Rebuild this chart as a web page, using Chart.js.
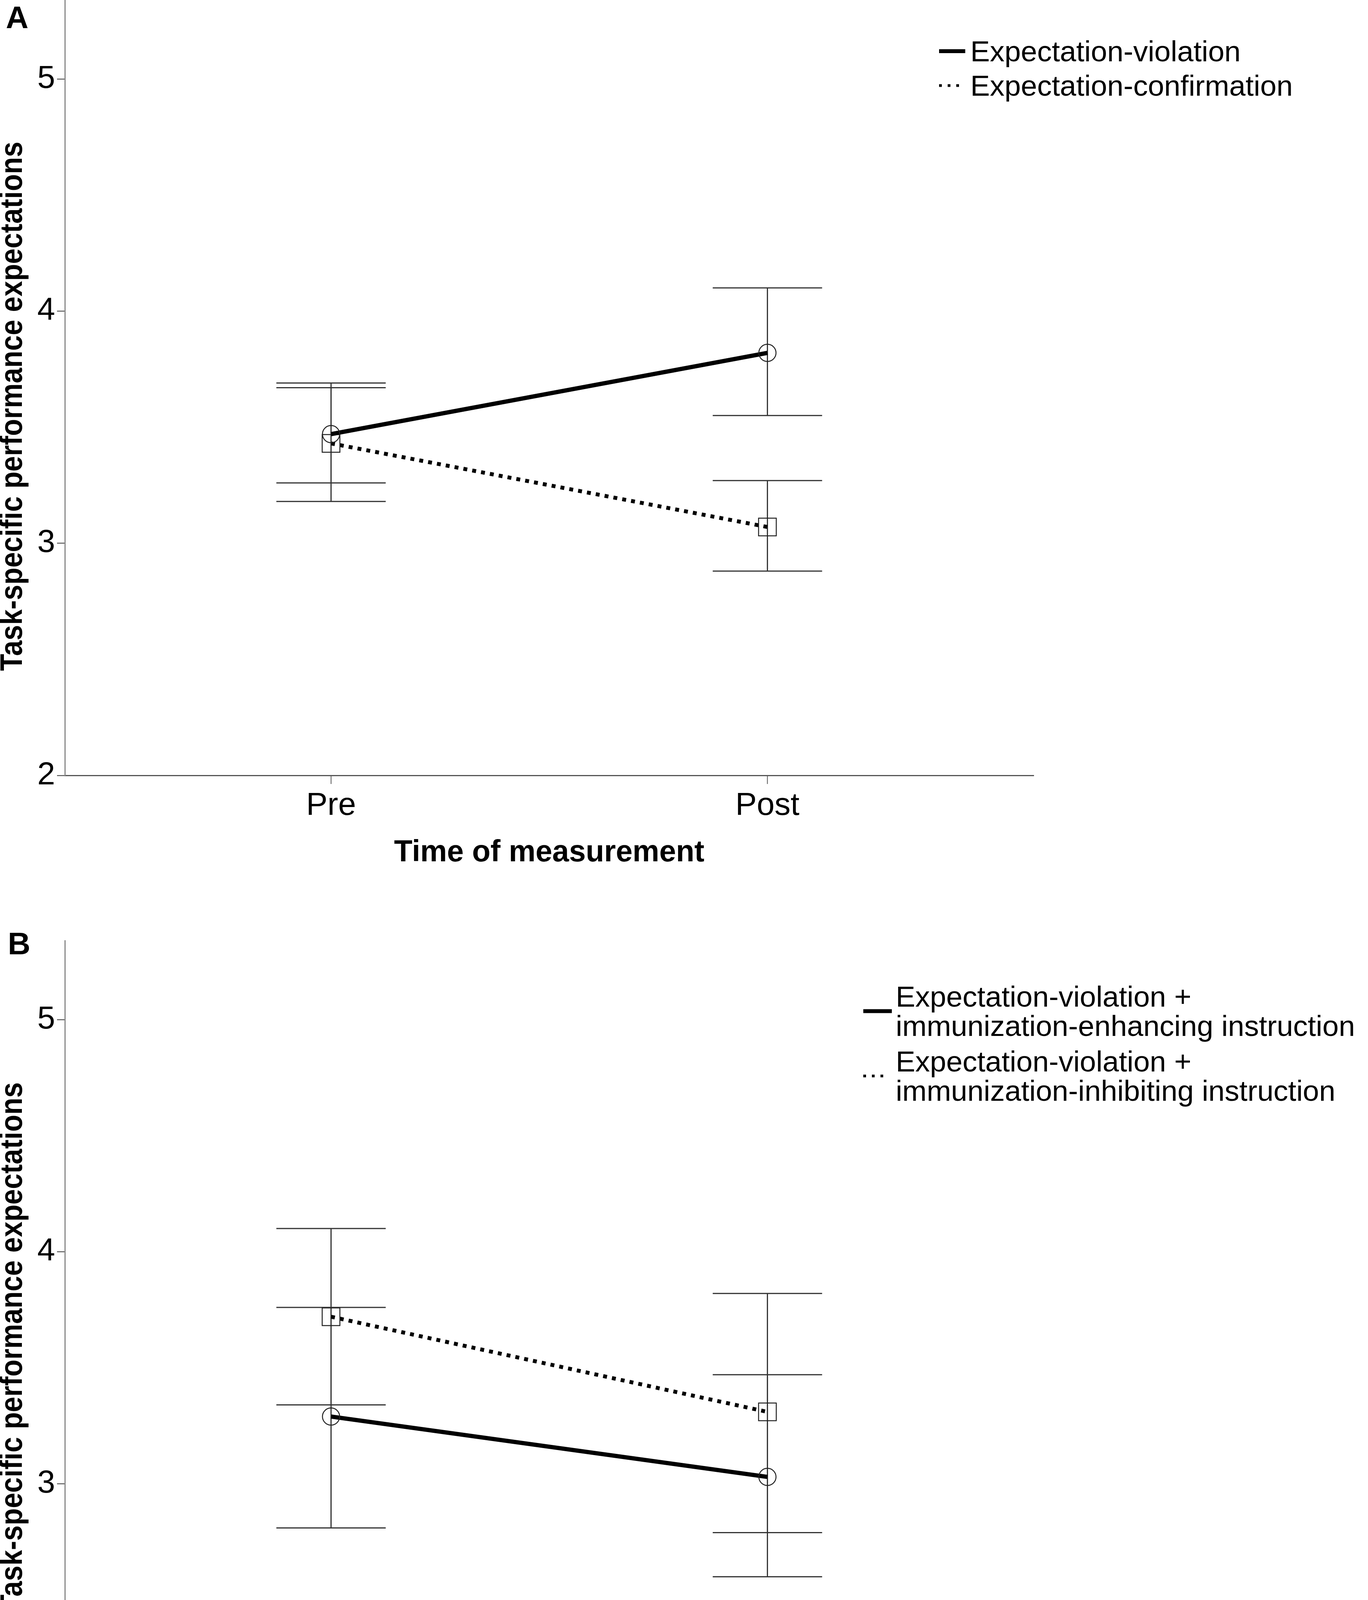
<!DOCTYPE html>
<html>
<head>
<meta charset="utf-8">
<title>Task-specific performance expectations</title>
<script src="https://cdn.jsdelivr.net/npm/chart.js@4.4.1/dist/chart.umd.min.js"></script>
<style>
  html, body { margin: 0; padding: 0; background: #fff; }
  body { width: 3502px; height: 4611px; overflow: hidden; position: relative; }
  canvas { position: absolute; left: 0; }
  #panelA { top: -120px; }
  #panelB { top: 2288px; }
</style>
</head>
<body>
<canvas id="panelA" width="3502" height="2420"></canvas>
<canvas id="panelB" width="3502" height="2420"></canvas>
<script>
// values: group means and error-bar ends
const timeLabels = ['Pre', 'Post'];
const yTicks = [2, 3, 4, 5];
const yTitle = 'Task-specific performance expectations';
const xTitle = 'Time of measurement';

const aLegend = [['Expectation-violation'], ['Expectation-confirmation']];
const aViolMean = [3.47, 3.82];
const aViolLow = [3.26, 3.55];
const aViolHigh = [3.69, 4.10];
const aConfMean = [3.43, 3.07];
const aConfLow = [3.18, 2.88];
const aConfHigh = [3.67, 3.27];

const bLegend = [
    ['Expectation-violation +', 'immunization-enhancing instruction'],
    ['Expectation-violation +', 'immunization-inhibiting instruction'],
];
const bEnhMean = [3.29, 3.03];
const bEnhLow = [2.81, 2.60];
const bEnhHigh = [3.76, 3.47];
const bInhMean = [3.72, 3.31];
const bInhLow = [3.34, 2.79];
const bInhHigh = [4.10, 3.82];

const FONT = '"Liberation Sans", Arial, sans-serif';
const CAP_HALF = 140;      // px
const Y_TITLE_LEN = 1355;  // px, the rotated title is set condensed
Chart.defaults.font.family = FONT;

function series(lines, mean, low, high, dotted) {
    return {
        label: lines.join(' '),
        data: mean.map((y, i) => ({ x: i, y })),
        errLow: low,
        errHigh: high,
        borderColor: '#000',
        borderWidth: dotted ? 10 : 11,
        borderDash: dotted ? [10, 13] : [],
        borderCapStyle: 'butt',
        pointStyle: dotted ? 'rect' : 'circle',
        pointRadius: dotted ? 32 : 22,
        pointBorderWidth: 2.5,
        pointBorderColor: '#222',
        pointBackgroundColor: 'rgba(0,0,0,0)',
        tension: 0,
    };
}

const errorBars = {
    id: 'errorBars',
    beforeDatasetsDraw(chart) {
        const { ctx, scales: { x, y } } = chart;
        ctx.save();
        ctx.strokeStyle = '#333';
        ctx.lineWidth = 3;
        chart.data.datasets.forEach((ds) => {
            ds.data.forEach((p, i) => {
                const px = x.getPixelForValue(p.x);
                const top = y.getPixelForValue(ds.errHigh[i]);
                const bot = y.getPixelForValue(ds.errLow[i]);
                ctx.beginPath();
                ctx.moveTo(px, top); ctx.lineTo(px, bot);
                ctx.moveTo(px - CAP_HALF, top); ctx.lineTo(px + CAP_HALF, top);
                ctx.moveTo(px - CAP_HALF, bot); ctx.lineTo(px + CAP_HALF, bot);
                ctx.stroke();
            });
        });
        ctx.restore();
    },
};

// panel letter, axis titles and the legend
const decor = {
    id: 'decor',
    afterDraw(chart, args, o) {
        const { ctx, chartArea: area } = chart;
        ctx.save();
        ctx.fillStyle = '#000';
        ctx.textBaseline = 'alphabetic';

        ctx.font = `bold 80px ${FONT}`;
        ctx.textAlign = 'left';
        ctx.fillText(o.letter, o.letterX, area.top + o.letterDy);

        ctx.save();
        ctx.font = `bold 80px ${FONT}`;
        const squeeze = Y_TITLE_LEN / ctx.measureText(yTitle).width;
        ctx.translate(56, area.top + 1040);
        ctx.rotate(-Math.PI / 2);
        ctx.scale(squeeze, 1);
        ctx.textAlign = 'center';
        ctx.fillText(yTitle, 0, 0);
        ctx.restore();

        ctx.font = `bold 77px ${FONT}`;
        ctx.textAlign = 'center';
        ctx.fillText(xTitle, (area.left + area.right) / 2, area.bottom + 220);

        const lg = o.legend;
        ctx.font = `75px ${FONT}`;
        ctx.textAlign = 'left';
        let base = area.top + lg.top;
        lg.items.forEach((lines, i) => {
            const ds = chart.data.datasets[i];
            const sy = base + (lines.length - 1) * lg.lineGap / 2 - 26;
            const dotted = ds.borderDash.length > 0;
            ctx.save();
            ctx.strokeStyle = ds.borderColor;
            ctx.lineWidth = dotted ? 7 : 10;
            ctx.setLineDash(dotted ? [7, 15] : []);
            ctx.beginPath();
            ctx.moveTo(lg.x, sy);
            ctx.lineTo(lg.x + (dotted ? lg.dotLen : lg.solidLen), sy);
            ctx.stroke();
            ctx.restore();
            lines.forEach((t, j) => ctx.fillText(t, lg.textX, base + j * lg.lineGap));
            base += (lines.length - 1) * lg.lineGap + lg.itemGap;
        });
        ctx.restore();
    },
};

function makePanel(id, datasets, letter, letterX, letterDy, legend) {
    return new Chart(document.getElementById(id), {
        type: 'line',
        data: { datasets },
        plugins: [errorBars, decor],
        options: {
            responsive: false,
            animation: false,
            devicePixelRatio: 1,
            layout: { padding: { top: 120, right: 856, left: 0, bottom: 0 } },
            plugins: {
                legend: { display: false },
                tooltip: { enabled: false },
                decor: { letter, letterX, letterDy, legend },
            },
            scales: {
                x: {
                    type: 'linear',
                    min: -0.61,
                    max: 1.61,
                    afterFit: (s) => { s.height = 315; },
                    afterBuildTicks: (s) => { s.ticks = timeLabels.map((_, i) => ({ value: i })); },
                    ticks: {
                        callback: (v, i) => timeLabels[i],
                        font: { size: 82 },
                        color: '#000',
                        padding: 7,
                        maxRotation: 0,
                        autoSkip: false,
                    },
                    grid: { drawOnChartArea: false, drawTicks: true, tickLength: 22, tickColor: '#555', tickWidth: 2 },
                    border: { display: true, color: '#555', width: 3 },
                },
                y: {
                    min: 2,
                    max: 5.34,
                    afterFit: (s) => { s.width = 166; },
                    afterBuildTicks: (s) => { s.ticks = yTicks.map((v) => ({ value: v })); },
                    ticks: { font: { size: 82 }, color: '#000', padding: 5 },
                    grid: { drawOnChartArea: false, drawTicks: true, tickLength: 20, tickColor: '#333', tickWidth: 2 },
                    border: { display: true, color: '#888', width: 3 },
                },
            },
        },
    });
}

makePanel('panelA', [
    series(aLegend[0], aViolMean, aViolLow, aViolHigh, false),
    series(aLegend[1], aConfMean, aConfLow, aConfHigh, true),
], 'A', 15, 72, { items: aLegend, x: 2404, textX: 2484, top: 157, lineGap: 75, itemGap: 88, solidLen: 67, dotLen: 52 });

makePanel('panelB', [
    series(bLegend[0], bEnhMean, bEnhLow, bEnhHigh, false),
    series(bLegend[1], bInhMean, bInhLow, bInhHigh, true),
], 'B', 20, 35, { items: bLegend, x: 2210, textX: 2293, top: 169, lineGap: 75, itemGap: 91, solidLen: 73, dotLen: 59 });
</script>
</body>
</html>
